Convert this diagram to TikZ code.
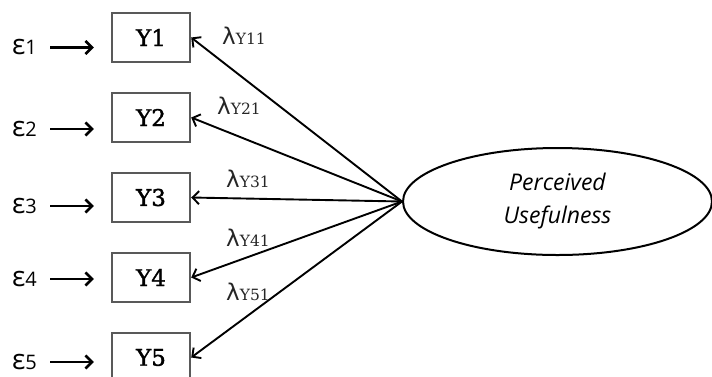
\documentclass[tikz,border=0pt]{standalone}
\usepackage{fontspec}
\newfontfamily\slabfont[BoldFont={DejaVu Serif},BoldFeatures={FakeBold=1.6}]{DejaVu Serif}
\newfontfamily\opensans{Open Sans}
\newfontfamily\greekfont{DejaVu Sans}
\usepackage{tikz}
\usetikzlibrary{arrows.meta,shapes,positioning}

\newcommand{\loadlbl}[1]{{\greekfont\fontsize{23}{23}\selectfont λ}{\slabfont\fontsize{15.5}{15.5}\selectfont Y#1}}
\newcommand{\errlbl}[1]{{\opensans\fontsize{28}{28}\selectfont ε}{\opensans\fontsize{20}{20}\selectfont #1}}

\begin{document}
\begin{tikzpicture}[x=1pt,y=-1pt,node distance=80pt,>={Straight Barb[length=6.5pt,width=13pt]}]
  \tikzstyle{indicator}=[rectangle,draw=black!65,line width=2.4pt,minimum width=78pt,minimum height=49pt,font=\slabfont\bfseries\fontsize{23}{23}\selectfont]
  \tikzstyle{construct}=[ellipse,draw=black,line width=2pt,minimum width=309pt,minimum height=107pt,align=center,font=\opensans\itshape\fontsize{23}{33}\selectfont]
  \tikzstyle{error}=[inner sep=0pt,anchor=east]
  \tikzstyle{loading}=[inner sep=0pt,text=black!85]

  \useasboundingbox (0,0) rectangle (712,376);

  \begin{scope}
    % Indicators
    \node [indicator] (Y1) at (151,37.5) {Y1};
    \node [indicator] (Y2) [below of=Y1] {Y2};
    \node [indicator] (Y3) [below of=Y2] {Y3};
    \node [indicator] (Y4) [below of=Y3] {Y4};
    \node [indicator] (Y5) [below of=Y4] {Y5};
    \node [construct] (PU) at (557.5,201.5) {Perceived\\Usefulness};
    % Errors
    \node [error] (e1) at (37,47.5) {\errlbl{1}};
    \node [error] (e2) at (37,129) {\errlbl{2}};
    \node [error] (e3) at (37,206) {\errlbl{3}};
    \node [error] (e4) at (37,279) {\errlbl{4}};
    \node [error] (e5) at (37,362) {\errlbl{5}};
    % Loadings
    \node [loading] (l1) at (244,36) {\loadlbl{11}};
    \node [loading] (l2) at (239,106) {\loadlbl{21}};
    \node [loading] (l3) at (248,179) {\loadlbl{31}};
    \node [loading] (l4) at (248,238) {\loadlbl{41}};
    \node [loading] (l5) at (248,292) {\loadlbl{51}};
  \end{scope}

  \begin{scope}
    \path [->, line width=1.9pt] (PU.west) edge (Y1.east);
    \path [->, line width=1.9pt] (PU.west) edge (Y2.east);
    \path [->, line width=1.9pt] (PU.west) edge (Y3.east);
    \path [->, line width=1.9pt] (PU.west) edge (Y4.east);
    \path [->, line width=1.9pt] (PU.west) edge (Y5.east);
    \path [->, line width=2.6pt] (e1.east) edge[shorten <=13pt,shorten >=17pt] (e1.east -| Y1.west);
    \path [->, line width=2.6pt] (e2.east) edge[shorten <=13pt,shorten >=17pt] (e2.east -| Y2.west);
    \path [->, line width=2.6pt] (e3.east) edge[shorten <=13pt,shorten >=17pt] (e3.east -| Y3.west);
    \path [->, line width=2.6pt] (e4.east) edge[shorten <=13pt,shorten >=17pt] (e4.east -| Y4.west);
    \path [->, line width=2.6pt] (e5.east) edge[shorten <=13pt,shorten >=17pt] (e5.east -| Y5.west);
  \end{scope}
\end{tikzpicture}
\end{document}
